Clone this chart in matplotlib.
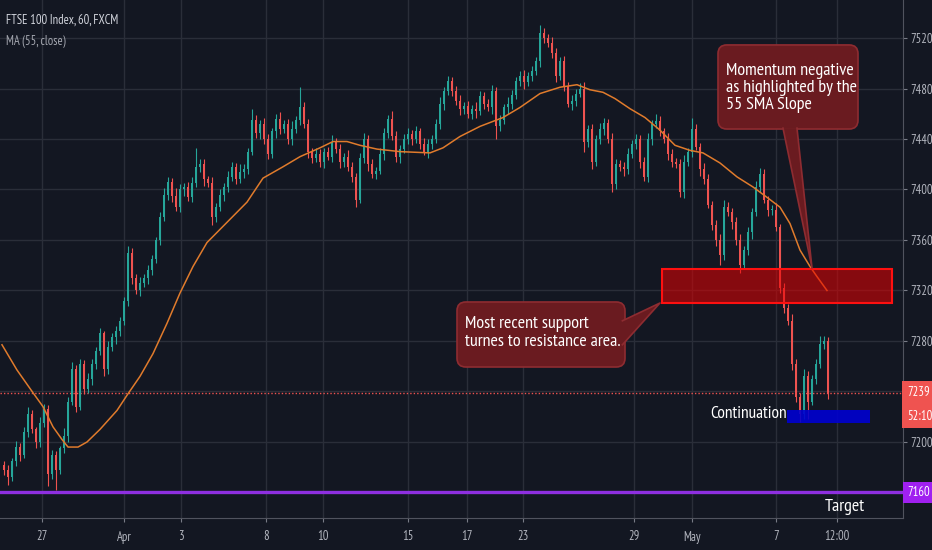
import matplotlib
matplotlib.use("Agg")
import matplotlib.pyplot as plt
from matplotlib import font_manager
from matplotlib.patches import Rectangle, FancyBboxPatch, Polygon

# chart header
title = "FTSE 100 Index, 60, FXCM"
ma_label = "MA (55, close)"

# hourly candles (open of each bar = previous close)
first_open = 7182
closes = [
    7178, 7172, 7185, 7196, 7190, 7208, 7222, 7210, 7200, 7215,
    7226, 7175, 7190, 7178, 7195, 7205, 7232, 7258, 7228, 7262,
    7242, 7250, 7262, 7272, 7286, 7258, 7275, 7283, 7288, 7296,
    7312, 7350, 7330, 7320, 7326, 7330, 7336, 7345, 7360, 7378,
    7396, 7406, 7395, 7386, 7400, 7402, 7394, 7405, 7418, 7420,
    7408, 7405, 7378, 7386, 7396, 7402, 7410, 7418, 7408, 7414,
    7416, 7430, 7455, 7445, 7452, 7440, 7428, 7446, 7456, 7448,
    7452, 7440, 7448, 7455, 7465, 7452, 7430, 7425, 7428, 7422,
    7430, 7426, 7438, 7432, 7422, 7426, 7418, 7410, 7392, 7425,
    7440, 7420, 7412, 7415, 7428, 7445, 7456, 7442, 7426, 7432,
    7440, 7444, 7440, 7446, 7436, 7430, 7436, 7440, 7452, 7468,
    7478, 7486, 7478, 7470, 7464, 7466, 7460, 7464, 7462, 7474,
    7468, 7465, 7478, 7450, 7455, 7465, 7468, 7475, 7486, 7490,
    7485, 7490, 7494, 7502, 7524, 7520, 7516, 7508, 7490, 7502,
    7482, 7468, 7470, 7476, 7480, 7438, 7448, 7422, 7440, 7448,
    7453, 7440, 7404, 7420, 7418, 7416, 7428, 7436, 7440, 7422,
    7410, 7440, 7452, 7454, 7446, 7440, 7428, 7422, 7420, 7398,
    7422, 7430, 7448, 7434, 7416, 7408, 7388, 7372, 7360, 7348,
    7386, 7382, 7374, 7360, 7340, 7352, 7366, 7382, 7402, 7412,
    7392, 7384, 7384, 7370, 7322, 7306, 7296, 7262, 7236, 7222,
    7252, 7232, 7250, 7262, 7278, 7280, 7239,
]
upper_wick = [
    3, 4, 2, 5, 3, 4, 6, 3, 2, 5, 4, 3, 4, 3, 2, 6, 4, 5, 3, 4,
    3, 5, 4, 3, 4, 2, 5, 3, 4, 3, 3, 5, 4, 3, 5, 3, 4, 3, 2, 4,
    5, 4, 3, 6, 4, 3, 4, 5, 15, 4, 4, 3, 5, 3, 4, 3, 5, 4, 3, 6,
    4, 3, 9, 4, 3, 5, 4, 3, 4, 5, 3, 4, 6, 3, 16, 4, 4, 3, 5, 4,
    3, 4, 5, 3, 4, 3, 5, 4, 3, 4, 5, 3, 4, 3, 5, 4, 3, 6, 4, 3,
    4, 5, 3, 4, 3, 5, 4, 3, 4, 5, 3, 4, 3, 4, 5, 3, 4, 3, 5, 4,
    3, 4, 5, 3, 4, 3, 5, 4, 3, 4, 5, 3, 4, 3, 6, 4, 3, 5, 4, 3,
    4, 3, 5, 4, 4, 5, 3, 4, 3, 5, 4, 3, 5, 4, 3, 4, 5, 3, 4, 3,
    4, 5, 3, 6, 4, 3, 5, 4, 3, 4, 5, 3, 9, 4, 3, 5, 4, 3, 4, 5,
    6, 4, 3, 4, 5, 3, 4, 3, 5, 5, 4, 3, 4, 5, 3, 4, 3, 5, 4, 3,
    6, 4, 3, 4, 6, 4, 3,
]
lower_wick = [
    4, 6, 3, 4, 5, 3, 4, 3, 5, 4, 3, 10, 4, 16, 3, 4, 5, 3, 4, 3,
    4, 3, 5, 4, 3, 6, 4, 3, 5, 4, 3, 4, 5, 3, 4, 3, 5, 4, 3, 4,
    3, 4, 5, 3, 4, 5, 3, 4, 3, 4, 5, 3, 6, 4, 3, 5, 4, 3, 4, 3,
    5, 4, 3, 4, 5, 4, 4, 3, 5, 4, 3, 4, 5, 3, 4, 3, 5, 4, 3, 4,
    5, 3, 4, 3, 5, 4, 3, 4, 6, 3, 4, 5, 3, 4, 3, 5, 4, 3, 4, 5,
    3, 4, 5, 3, 4, 3, 5, 4, 3, 4, 5, 3, 4, 3, 5, 4, 3, 4, 5, 3,
    4, 3, 5, 10, 4, 3, 5, 4, 3, 4, 5, 3, 4, 3, 5, 4, 3, 4, 5, 3,
    4, 3, 5, 4, 3, 8, 4, 6, 3, 4, 5, 3, 6, 4, 3, 5, 4, 3, 4, 5,
    3, 4, 5, 3, 4, 3, 5, 4, 3, 4, 5, 3, 4, 3, 5, 4, 3, 4, 5, 8,
    4, 3, 5, 4, 6, 3, 4, 5, 3, 4, 3, 5, 4, 3, 4, 4, 3, 5, 4, 6,
    4, 14, 3, 4, 3, 4, 5,
]

# MA(55) at bar positions
ma_bar = [-0.5, 3.25, 7.25, 9.75, 12.25, 14.5, 16, 18.5, 20.75, 24, 28.25, 30.75,
          34, 37.25, 40.75, 44, 47.25, 50.75, 55.75, 60.75, 64.75, 69.75, 74, 79,
          82.25, 85.75, 89, 93.25, 99, 106.5, 109.75, 114, 119, 124.75, 129, 134,
          139, 143.25, 146.5, 149.75, 152.75, 156.5, 160.25, 164, 167.75, 171.5,
          174.75, 179, 183.25, 187.25, 191.5, 194, 196.5, 199, 201.5, 203.25, 205.75]
ma_vals = [7277, 7257, 7239, 7228, 7212, 7202, 7196, 7196, 7200, 7210, 7225, 7237,
           7252, 7270, 7294, 7318, 7339, 7358, 7374, 7390, 7409, 7418, 7426, 7433,
           7438, 7438, 7435, 7432, 7430, 7429, 7433, 7442, 7450, 7457, 7465, 7476,
           7481, 7483, 7479, 7477, 7472, 7464, 7457, 7447, 7435, 7431,
           7429, 7421, 7410, 7402, 7392, 7386, 7373, 7352, 7339, 7331, 7320]

# time axis
date_labels = ["27", "Apr", "3", "8", "10", "15", "17", "23", "29", "May", "7", "12:00"]
date_bar = [9.4, 30, 44.25, 65.5, 79.7, 101, 115.7, 129.75, 157.5, 172, 192.9, 208.2]

# price axis
grid_prices = [7160, 7200, 7240, 7280, 7320, 7360, 7400, 7440, 7480, 7520]
price_labels = ["", "7200", "", "7280", "7320", "7360", "7400", "7440", "7480", "7520"]
last_price = 7239
countdown = "52:10"
target_price = 7160

# drawings
resistance_zone = (7310, 7337)
continuation_zone = (7215, 7225.5)
note_resistance = "Most recent support\nturnes to resistance area."
note_momentum = "Momentum negative\nas highlighted by the\n55 SMA Slope"

names = {f.name for f in font_manager.fontManager.ttflist}
font = "DejaVu Sans"
for cand in ["PT Sans Narrow", "Roboto Condensed", "Archivo Narrow", "Barlow Semi Condensed",
             "Fira Sans Condensed", "Liberation Sans Narrow"]:
    if cand in names:
        font = cand
        break
plt.rcParams["font.family"] = [font, "DejaVu Sans"]
plt.rcParams["font.weight"] = "normal"

BG = "#131722"
UP = "#26a69a"
DOWN = "#ef5350"

fig = plt.figure(figsize=(9.32, 5.5), dpi=100, facecolor=BG)
ax = fig.add_axes([0, 32 / 550, 903 / 932, 518 / 550])
ax.set_facecolor(BG)
ax.set_xlim(-1, 224.75)
ax.set_ylim(7139.8, 7550.1)

# candles
opens = [first_open] + closes[:-1]
for i, (o, c, uw, lw) in enumerate(zip(opens, closes, upper_wick, lower_wick)):
    col = UP if c >= o else DOWN
    top, bot = max(o, c), min(o, c)
    ax.vlines(i, bot - lw, top + uw, color=col, lw=0.8, zorder=3)
    ax.bar(i, max(top - bot, 0.8), bottom=bot, width=0.62, color=col, lw=0, zorder=3)

ax.plot(ma_bar, ma_vals, color="#e07b2c", lw=1.1, zorder=4)

# horizontal levels
ax.axhline(last_price, color=DOWN, lw=1, ls=(0, (1, 1.5)), zorder=2)
ax.axhline(target_price, color="#8e2fe0", lw=2.4, zorder=5)

# zones
ax.add_patch(Rectangle((164.5, resistance_zone[0]), 57.5, resistance_zone[1] - resistance_zone[0],
                       fc=(0.9, 0, 0, 0.55), ec="#ff1010", lw=1.5, zorder=6))
ax.add_patch(Rectangle((195.75, continuation_zone[0]), 20.75, continuation_zone[1] - continuation_zone[0],
                       fc=(0, 0, 0.82, 0.9), ec="none", zorder=6))

# callouts
NOTE_FC = "#6a1b20"
NOTE_EC = "#8e2c31"


def callout(x0, y0, x1, y1, base_a, base_b, tip, text, tx, ty, size):
    ax.add_patch(FancyBboxPatch((x0, y0), x1 - x0, y1 - y0,
                                boxstyle="round,pad=0,rounding_size=2.2",
                                mutation_aspect=4 / 1.2625,
                                fc=NOTE_FC, ec=NOTE_EC, lw=1.2, zorder=7))
    ax.add_patch(Polygon([base_a, tip, base_b], closed=True, fc=NOTE_FC, ec="none", zorder=8))
    ax.plot([base_a[0], tip[0], base_b[0]], [base_a[1], tip[1], base_b[1]],
            color=NOTE_EC, lw=1.2, zorder=8)
    ax.text(tx, ty, text, color="white", fontsize=size, va="center", ha="left",
            linespacing=1.1, zorder=9)


callout(113.25, 7259.4, 155.25, 7310.9, (154.6, 7296), (154.6, 7277), (164, 7310.1),
        note_resistance, 115.2, 7286.3, 13)
callout(178.5, 7447.9, 213.5, 7514.5, (194.75, 7448.6), (198.25, 7448.6), (202, 7337.8),
        note_momentum, 180.5, 7480.5, 13)

ax.text(176.5, 7222, "Continuation", color="white", fontsize=12.5, va="center", ha="left", zorder=9)
ax.text(205.25, 7148.5, "Target", color="white", fontsize=13, va="center", ha="left", zorder=9)

# axes styling
ax.set_xticks(date_bar)
ax.set_xticklabels(date_labels)
ax.set_yticks(grid_prices)
ax.set_yticklabels(price_labels)
ax.yaxis.tick_right()
ax.grid(True, color="#2a2e39", lw=1, zorder=0)
ax.tick_params(axis="both", colors="#787b86", labelcolor="#b2b5be", labelsize=9, length=3)
ax.tick_params(axis="x", pad=6)
ax.tick_params(axis="y", pad=2)
for side in ("top", "left"):
    ax.spines[side].set_visible(False)
for side in ("bottom", "right"):
    ax.spines[side].set_color("#50535e")

# price-axis badges
badge = dict(xycoords=("axes fraction", "data"), textcoords="offset points",
             ha="left", va="center", fontsize=9, color="white", annotation_clip=False, zorder=10)
ax.annotate(str(last_price), (1, last_price), xytext=(3, 0),
            bbox=dict(boxstyle="square,pad=0.42", fc=DOWN, ec="none"), **badge)
ax.annotate(countdown, (1, last_price), xytext=(3, -17),
            bbox=dict(boxstyle="square,pad=0.42", fc=DOWN, ec="none"), **badge)
ax.annotate(str(target_price), (1, target_price), xytext=(3, 0),
            bbox=dict(boxstyle="square,pad=0.35", fc="#a020f0", ec="none"), **badge)

fig.text(6 / 932, 1 - 20 / 550, title, color="#d1d4dc", fontsize=9, va="center")
fig.text(6 / 932, 1 - 41 / 550, ma_label, color="#a3a6af", fontsize=9, va="center")

fig.savefig("out.png", dpi=100, facecolor=BG)
